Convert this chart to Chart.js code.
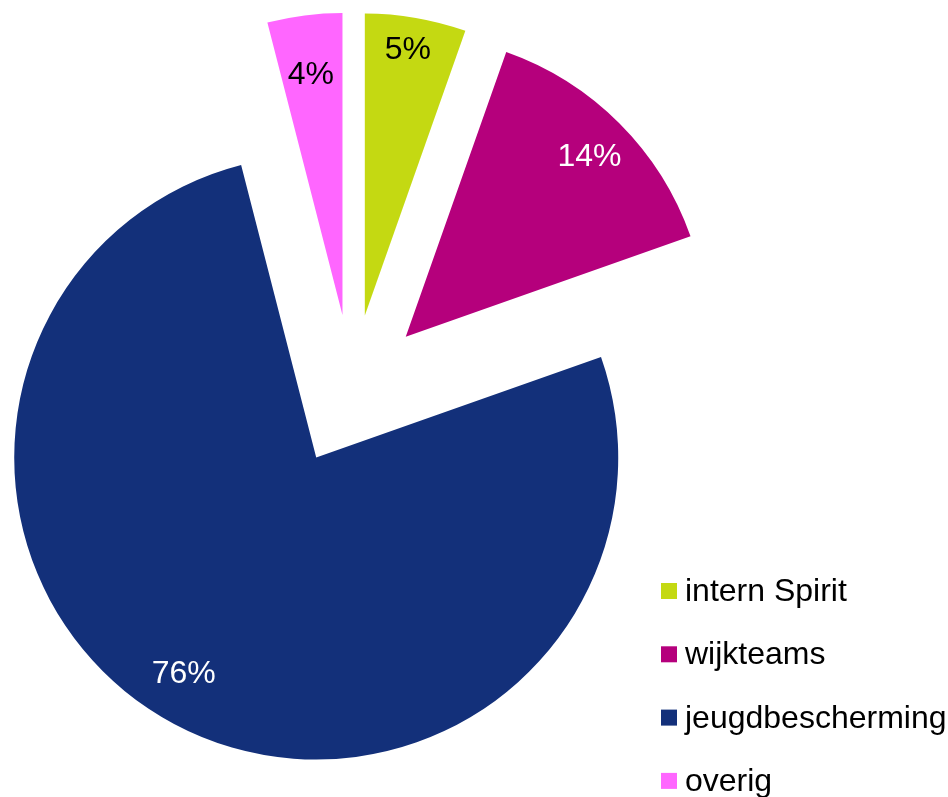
<!DOCTYPE html>
<html>
<head>
<meta charset="utf-8">
<script src="https://cdn.jsdelivr.net/npm/chart.js@4/dist/chart.umd.min.js"></script>
<style>
  html, body { margin: 0; padding: 0; background: #fff; }
  canvas { display: block; }
</style>
</head>
<body>
<canvas id="chart" width="948" height="797"></canvas>
<script>
'use strict';

// data
const categories = ['intern Spirit', 'wijkteams', 'jeugdbescherming', 'overig'];
const shares = [5.4, 14.2, 76.4, 4.0];

// styling
const sliceColors = ['#c4d912', '#b5007c', '#13307a', '#ff66ff'];
const labelColors = ['#000000', '#ffffff', '#ffffff', '#000000'];
const labelDist = [0.89, 0.85, 0.84, 0.80];   // fraction of radius from slice tip
const labelTurn = [-0.5, 0.7, 3.4, -0.3];     // degrees, like the "best fit" placement
const FONT = '32px "Liberation Sans", Arial, sans-serif';
const EXPLODE = 76;       // how far each slice is pulled out

//Draw each slice pulled out along its middle angle, then its percentage
const explodePlugin = {
   id: 'explode',
   beforeDatasetDraw(chart, args) {
      const ctx = chart.ctx;
      const meta = args.meta;
      const total = shares.reduce((a, b) => a + b, 0);

      meta.data.forEach(arc => {
         const p = arc.getProps(['startAngle', 'endAngle'], true);
         const mid = (p.startAngle + p.endAngle) / 2;
         ctx.save();
         ctx.translate(Math.cos(mid) * EXPLODE, Math.sin(mid) * EXPLODE);
         arc.draw(ctx);
         ctx.restore();
      });

      meta.data.forEach((arc, i) => {
         const p = arc.getProps(['x', 'y', 'startAngle', 'endAngle', 'outerRadius'], true);
         const mid = (p.startAngle + p.endAngle) / 2;
         const ang = mid + labelTurn[i] * Math.PI / 180;
         // tip of the pulled-out slice
         const tipX = p.x + Math.cos(mid) * EXPLODE;
         const tipY = p.y + Math.sin(mid) * EXPLODE;
         const dist = p.outerRadius * labelDist[i];
         ctx.save();
         ctx.font = FONT;
         ctx.fillStyle = labelColors[i];
         ctx.textAlign = 'center';
         ctx.textBaseline = 'middle';
         ctx.fillText(Math.round(shares[i] / total * 100) + '%',
            tipX + Math.cos(ang) * dist, tipY + Math.sin(ang) * dist);
         ctx.restore();
      });
      return false;
   }
};

//Legend in the bottom right corner, running off the canvas like the original
const legendPlugin = {
   id: 'cornerLegend',
   afterDraw(chart) {
      const ctx = chart.ctx;
      ctx.save();
      ctx.font = FONT;
      ctx.textBaseline = 'alphabetic';
      ctx.textAlign = 'left';
      categories.forEach((name, i) => {
         const top = 583 + i * 63.3;
         ctx.fillStyle = sliceColors[i];
         ctx.fillRect(661, top, 16, 16);
         ctx.fillStyle = '#000';
         ctx.fillText(name, 685, top + 18);
      });
      ctx.restore();
   }
};

new Chart(document.getElementById('chart'), {
   type: 'pie',
   data: {
      labels: categories,
      datasets: [{
         data: shares,
         backgroundColor: sliceColors,
         borderWidth: 0
      }]
   },
   options: {
      responsive: false,
      animation: false,
      radius: 302,
      layout: { padding: { left: 0, top: 0, right: 244, bottom: 16 } },
      plugins: {
         legend: { display: false },
         tooltip: { enabled: false }
      }
   },
   plugins: [explodePlugin, legendPlugin]
});
</script>
</body>
</html>
